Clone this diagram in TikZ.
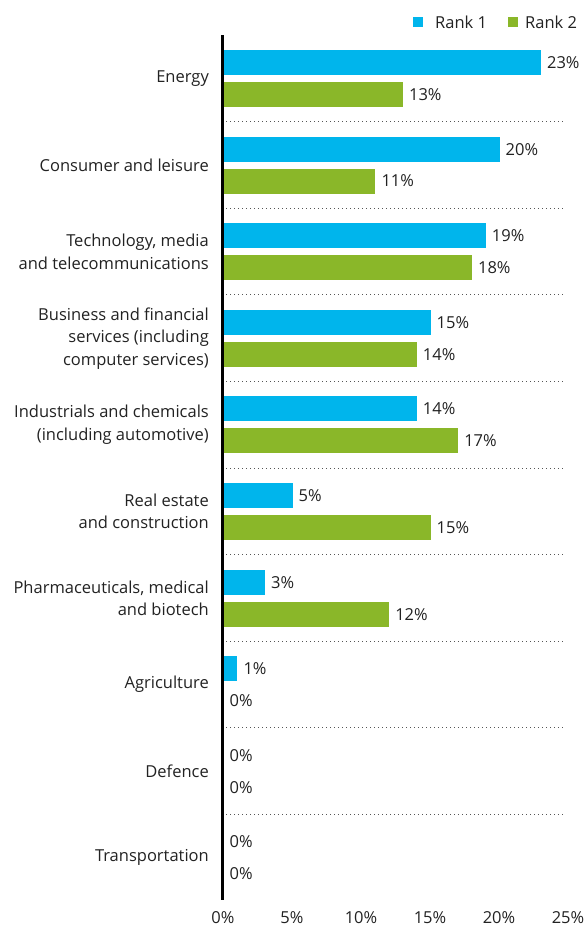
\documentclass[tikz,border=0pt]{standalone}
\usepackage{fontspec}
\setmainfont{Open Sans}
\definecolor{rankone}{HTML}{00B5EC}
\definecolor{ranktwo}{HTML}{8AB729}
\definecolor{txt}{HTML}{222222}
\definecolor{sepgray}{HTML}{555555}
\tikzset{
  lbl/.style={text=txt,inner sep=0pt,font=\fontsize{16.5}{22.5}\selectfont},
  catlbl/.style={lbl,anchor=east,align=right},
  vallbl/.style={lbl,anchor=west},
  ticklbl/.style={lbl,anchor=center},
  barone/.style={fill=rankone},
  bartwo/.style={fill=ranktwo},
  sepline/.style={draw=sepgray,line width=1.1pt,dash pattern=on 1.1pt off 2.9pt},
  axisline/.style={draw=black,line width=3pt}
}
\begin{document}
\begin{tikzpicture}[x=1pt,y=-1pt]
\useasboundingbox (0,0) rectangle (585,926);
% legend
\fill[barone] (413,17) rectangle (423,27);
\node[vallbl] (leg1) at (435,22) {Rank 1};
\fill[bartwo] (508,17) rectangle (518,27);
\node[vallbl] (leg2) at (525,22) {Rank 2};
% bars
\foreach \i/\lab/\a/\b in {
  0/{Energy}/23/13,
  1/{Consumer and leisure}/20/11,
  2/{Technology, media\\and telecommunications}/19/18,
  3/{Business and financial\\services (including\\computer services)}/15/14,
  4/{Industrials and chemicals\\(including automotive)}/14/17,
  5/{Real estate\\and construction}/5/15,
  6/{Pharmaceuticals, medical\\and biotech}/3/12,
  7/{Agriculture}/1/0,
  8/{Defence}/0/0,
  9/{Transportation}/0/0}{
  \pgfmathsetmacro{\yo}{50+86.6*\i}
  \pgfmathsetmacro{\yt}{82+86.6*\i}
  \pgfmathsetmacro{\xa}{223.5+13.8*\a}
  \pgfmathsetmacro{\xb}{223.5+13.8*\b}
  \ifdim\a pt>0pt \fill[barone] (222,\yo) rectangle (\xa,\yo+25);\fi
  \ifdim\b pt>0pt \fill[bartwo] (222,\yt) rectangle (\xb,\yt+25);\fi
  \node[vallbl] (vA\i) at (\xa+6,\yo+12.5) {\a\%};
  \node[vallbl] (vB\i) at (\xb+6,\yt+12.5) {\b\%};
  \node[catlbl] (cat\i) at (209,\yo+28.5) {\lab};
}
% separators
\foreach \i in {0,...,8}{
  \pgfmathsetmacro{\ys}{121.7+86.6*\i}
  \coordinate (sl\i) at (226,\ys);
  \coordinate (sr\i) at (563,\ys);
  \draw[sepline] (sl\i) -- (sr\i);
}
% axis
\coordinate (axtop) at (222,35);
\coordinate (axbot) at (222,900);
\draw[axisline] (axtop) -- (axbot);
% ticks
\foreach \k in {0,5,...,25}{
  \node[ticklbl] (tick\k) at (223+13.8*\k,918) {\k\%};
}
\end{tikzpicture}
\end{document}
